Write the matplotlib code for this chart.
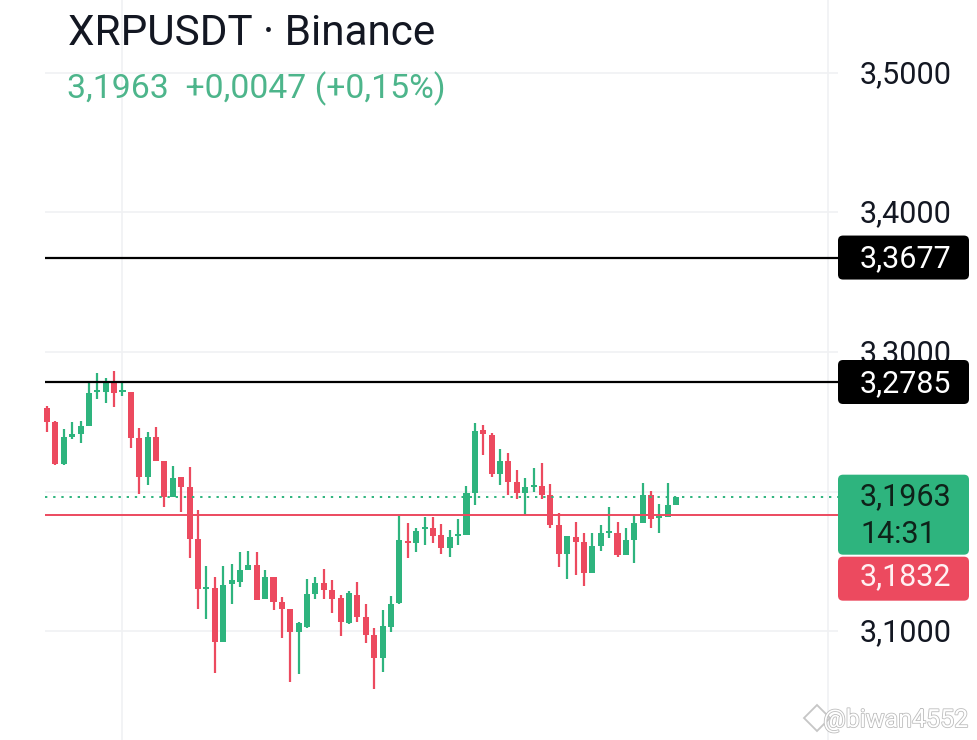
import numpy as np
import matplotlib
matplotlib.use("Agg")
import matplotlib.pyplot as plt
import matplotlib.patheffects as pe
from matplotlib import transforms
from matplotlib.patches import FancyBboxPatch

plt.rcParams["font.family"] = ["Roboto", "DejaVu Sans"]

# OHLC of the visible candles
opens = [3.2599, 3.2498, 3.2197, 3.2391, 3.2412, 3.2470, 3.2713, 3.2713, 3.2778, 3.2713,
         3.2713, 3.2384, 3.2104, 3.2391, 3.2219, 3.1961, 3.2104, 3.2032, 3.1659, 3.1301,
         3.1308, 3.0921, 3.1337, 3.1351, 3.1437, 3.1473, 3.1229, 3.1387, 3.1208, 3.1158,
         3.0993, 3.1029, 3.1265, 3.1344, 3.1294, 3.1237, 3.1057, 3.1258, 3.1100, 3.0971,
         3.0806, 3.1029, 3.1201, 3.1645, 3.1631, 3.1731, 3.1738, 3.1688, 3.1595, 3.1681,
         3.1688, 3.1989, 3.2441, 3.2405, 3.2125, 3.2219, 3.2068, 3.1989, 3.2032, 3.2039,
         3.1975, 3.1760, 3.1552, 3.1674, 3.1638, 3.1416, 3.1609, 3.1703, 3.1703, 3.1545,
         3.1652, 3.1774, 3.1975, 3.1810, 3.1817, 3.1903]
highs = [3.2613, 3.2505, 3.2448, 3.2498, 3.2505, 3.2792, 3.2849, 3.2814, 3.2864, 3.2792,
         3.2713, 3.2455, 3.2427, 3.2462, 3.2219, 3.2183, 3.2104, 3.2176, 3.1867, 3.1466,
         3.1387, 3.1466, 3.1480, 3.1566, 3.1573, 3.1566, 3.1437, 3.1387, 3.1244, 3.1158,
         3.1065, 3.1373, 3.1387, 3.1444, 3.1366, 3.1258, 3.1287, 3.1351, 3.1194, 3.1022,
         3.1151, 3.1251, 3.1824, 3.1774, 3.1738, 3.1817, 3.1817, 3.1767, 3.1724, 3.1803,
         3.2039, 3.2491, 3.2477, 3.2419, 3.2305, 3.2276, 3.2154, 3.2097, 3.2168, 3.2204,
         3.2054, 3.1846, 3.1681, 3.1781, 3.1703, 3.1703, 3.1760, 3.1889, 3.1781, 3.1738,
         3.1839, 3.2061, 3.2004, 3.1910, 3.2061, 3.1963]
lows = [3.2427, 3.2190, 3.2190, 3.2376, 3.2348, 3.2470, 3.2663, 3.2634, 3.2606, 3.2685,
        3.2312, 3.1982, 3.2047, 3.2219, 3.1889, 3.1961, 3.1853, 3.1523, 3.1158, 3.1086,
        3.0699, 3.0921, 3.1194, 3.1315, 3.1437, 3.1222, 3.1229, 3.1151, 3.0950, 3.0634,
        3.0692, 3.1022, 3.1229, 3.1229, 3.1129, 3.0964, 3.1050, 3.1065, 3.0914, 3.0584,
        3.0706, 3.0993, 3.1194, 3.1523, 3.1566, 3.1616, 3.1631, 3.1552, 3.1530, 3.1616,
        3.1688, 3.1903, 3.2262, 3.2104, 3.2047, 3.1975, 3.1946, 3.1832, 3.1996, 3.1946,
        3.1738, 3.1459, 3.1373, 3.1401, 3.1323, 3.1416, 3.1573, 3.1667, 3.1530, 3.1545,
        3.1487, 3.1774, 3.1738, 3.1703, 3.1817, 3.1903]
closes = [3.2498, 3.2197, 3.2391, 3.2412, 3.2470, 3.2706, 3.2720, 3.2778, 3.2706, 3.2720,
          3.2384, 3.2104, 3.2391, 3.2219, 3.1961, 3.2097, 3.2032, 3.1659, 3.1301, 3.1315,
          3.0921, 3.1330, 3.1366, 3.1437, 3.1473, 3.1222, 3.1387, 3.1208, 3.1158, 3.0993,
          3.1057, 3.1265, 3.1344, 3.1294, 3.1229, 3.1065, 3.1272, 3.1100, 3.0971, 3.0806,
          3.1036, 3.1194, 3.1652, 3.1631, 3.1717, 3.1738, 3.1681, 3.1595, 3.1674, 3.1695,
          3.1989, 3.2434, 3.2412, 3.2125, 3.2219, 3.2068, 3.1989, 3.2032, 3.2047, 3.1975,
          3.1760, 3.1552, 3.1681, 3.1638, 3.1416, 3.1609, 3.1703, 3.1710, 3.1545, 3.1652,
          3.1774, 3.1975, 3.1803, 3.1824, 3.1903, 3.1963]

price_ticks = [3.1, 3.2, 3.3, 3.4, 3.5]
hidden_ticks = [3.2]
level_lines = [3.3677, 3.2785]
last_price = 3.1963
other_price = 3.1832
countdown = "14:31"
title = "XRPUSDT · Binance"
subtitle = "3,1963  +0,0047 (+0,15%)"
watermark = "@biwan4552"

GREEN = "#2EB47E"
RED = "#EC4A5F"
GRID = "#F0F1F3"


def fmt(v):
    return f"{v:.4f}".replace(".", ",")


W, H = 978, 740
fig = plt.figure(figsize=(W / 100, H / 100), dpi=100)
fig.patch.set_facecolor("white")

ymin, ymax = 3.0219, 3.5523
ax = fig.add_axes([0, 0, 838 / W, 1])
ax.set_xlim(-5.60, 94.28)
ax.set_ylim(ymin, ymax)
ax.axis("off")

o = np.array(opens)
c = np.array(closes)
h = np.array(highs)
l = np.array(lows)
x = np.arange(len(o))
up = c >= o
cols = np.where(up, GREEN, RED)

# grid
x0 = -0.25
x1 = ax.get_xlim()[1]
ax.hlines(price_ticks, x0, x1, color=GRID, lw=1.2, zorder=0)
ax.axvline(9, color=GRID, lw=1.2, zorder=0)
ax.axvline(93.1, color=GRID, lw=1.2, zorder=0)

# candles
ax.vlines(x, l, h, colors=cols, lw=1.6, zorder=2)
body = np.maximum(np.abs(c - o), 0.0013)
ax.bar(x, body, bottom=np.minimum(o, c), width=0.72, color=cols, zorder=3)

# price lines
ax.hlines(level_lines, x0, x1, color="black", lw=1.6, zorder=4)
ax.hlines(other_price, x0, x1, color=RED, lw=1.4, zorder=4)
ax.hlines(last_price, x0, x1, color=GREEN, lw=1.4,
          linestyles=(0, (1.2, 3.0)), zorder=4)

# price scale overlay: x in pixels, y in price
lab = fig.add_axes([0, 0, 1, 1], zorder=5)
lab.set_xlim(0, W)
lab.set_ylim(ymin, ymax)
lab.axis("off")
lab.patch.set_alpha(0)
ppp = (ymax - ymin) / H  # price per pixel
base = transforms.offset_copy(lab.transData, fig=fig, x=0, y=-10, units="dots")
FS = 22

for t in price_ticks:
    if t in hidden_ticks:
        continue
    lab.text(860, t, fmt(t), transform=base, fontsize=FS, color="#131722",
             va="baseline", ha="left", zorder=1)


def box(ytop, ybot, color):
    p = FancyBboxPatch((838, ybot), 131, ytop - ybot,
                       boxstyle="round,pad=0,rounding_size=5",
                       mutation_aspect=ppp, fc=color, ec="none", zorder=3)
    lab.add_patch(p)


for lv in level_lines:
    box(lv + 22 * ppp, lv - 22 * ppp, "black")
    lab.text(860, lv, fmt(lv), transform=base, fontsize=FS, color="white",
             va="baseline", ha="left", zorder=4)

g_top = last_price + 22 * ppp
g_bot = last_price - 58 * ppp
box(g_top, g_bot, GREEN)
lab.text(860, last_price + 2 * ppp, fmt(last_price), transform=base, fontsize=FS,
         color="#0E2219", va="baseline", ha="left", zorder=4)
lab.text(860, last_price - 36 * ppp, countdown, transform=base, fontsize=FS,
         color="#0E2219", va="baseline", ha="left", zorder=4)

r_top = g_bot - 2 * ppp
r_bot = r_top - 44 * ppp
box(r_top, r_bot, RED)
lab.text(860, (r_top + r_bot) / 2 + 4 * ppp, fmt(other_price), transform=base,
         fontsize=FS, color="#FFF0F2", va="baseline", ha="left", zorder=4)

# header
fig.text(68 / W, 1 - 45 / H, title, fontsize=30.4, color="#131722",
         ha="left", va="baseline")
fig.text(67 / W, 1 - 98 / H, subtitle, fontsize=24.3, color="#4DB58B",
         ha="left", va="baseline")

# watermark (hollow lettering + small logo shape)
fig.text(968 / W, 1 - 727 / H, watermark, fontsize=18, color="white",
         ha="right", va="baseline", zorder=10,
         path_effects=[pe.withStroke(linewidth=1.2, foreground="#BDBDBD")])
lab.plot([817], [ymax - 718 * ppp], marker="D", ms=13, mfc="none",
         mec="#C6C6C6", mew=1.3, zorder=10)

fig.savefig("out.png", dpi=100)
